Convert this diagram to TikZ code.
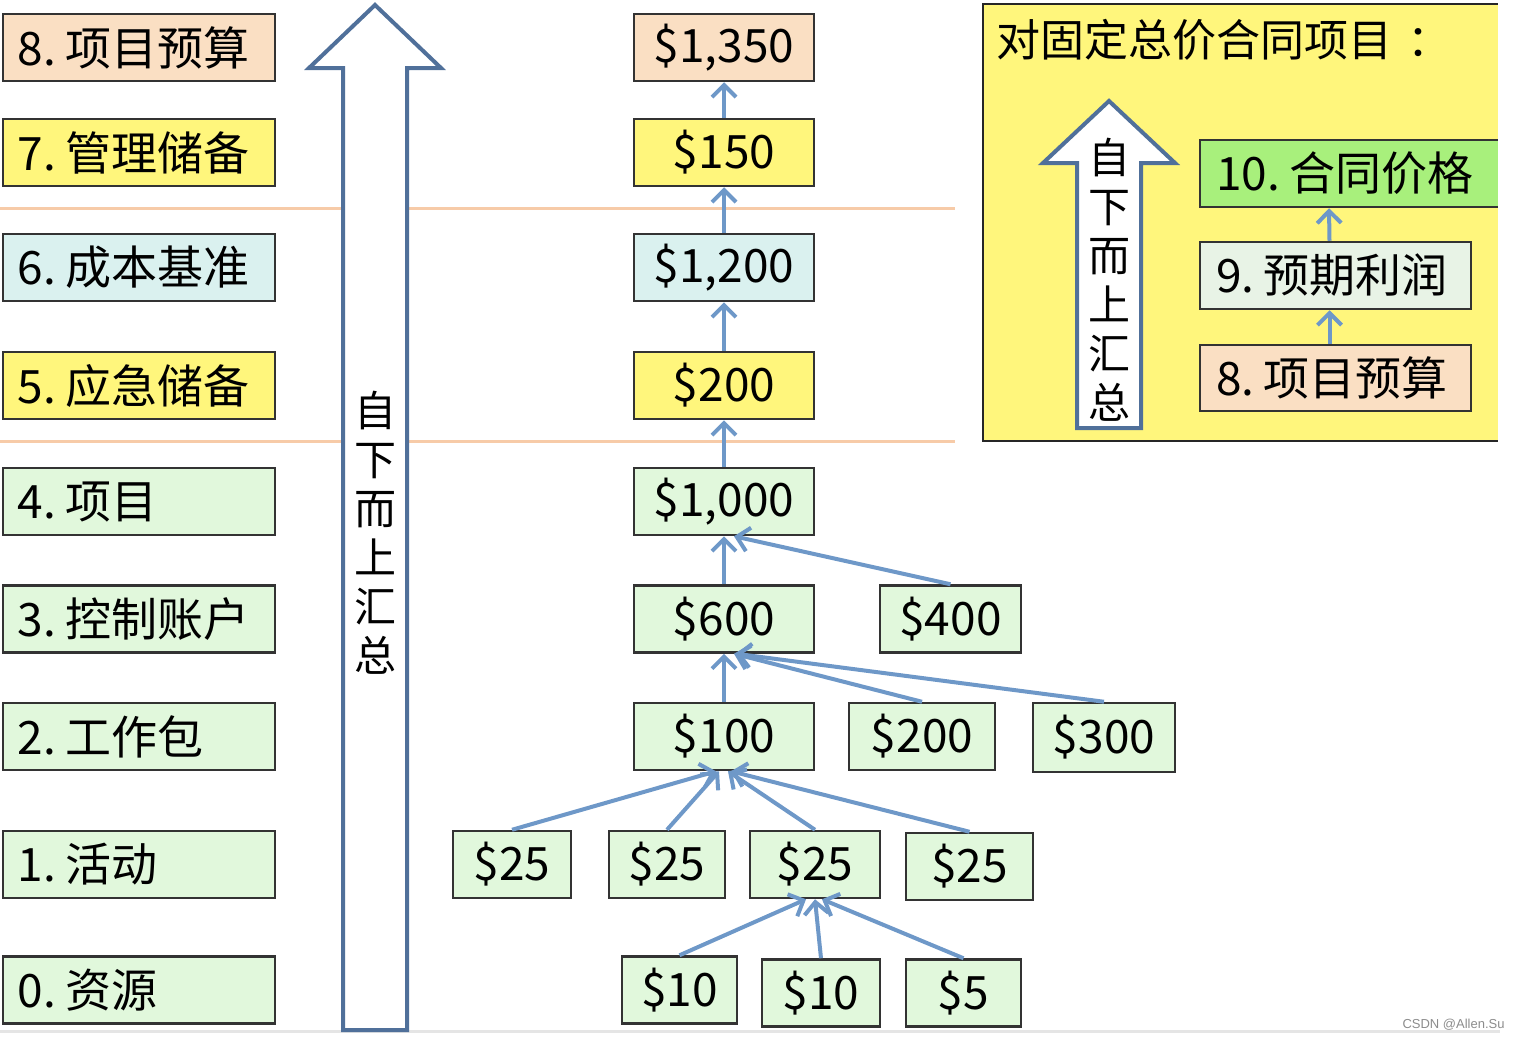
\documentclass[tikz,border=0pt]{standalone}
\usepackage{fontspec}
\setmainfont{Noto Sans CJK SC}
\newfontfamily\wmfont{Liberation Sans}
\usetikzlibrary{arrows.meta}
\definecolor{peach}{HTML}{FADFC3}
\definecolor{yel}{HTML}{FFF67C}
\definecolor{cyanl}{HTML}{DAF1EF}
\definecolor{grn}{HTML}{E1F8DC}
\definecolor{grnb}{HTML}{A8F07C}
\definecolor{grey9}{HTML}{E8F3E6}
\definecolor{boxline}{HTML}{333333}
\definecolor{arrc}{HTML}{6E98C8}
\definecolor{bigarr}{HTML}{50709A}
\definecolor{orangel}{HTML}{F7CBA8}
\newcommand\lbl[2]{\makebox[#1][l]{#2}}
\tikzset{
  box/.style={draw=boxline, line width=1.25pt, inner sep=0pt, minimum height=33.5pt,
    font=\fontsize{23pt}{27pt}\selectfont},
  amt/.style={box},
  arr/.style={draw=arrc, line width=2pt, -{Straight Barb[length=6pt,width=12pt]}},
  vtext/.style={align=center, font=\fontsize{21pt}{24.5pt}\selectfont},
  hollow/.style={draw=bigarr, line width=2pt, fill=white, line join=miter}
}
\begin{document}
\begin{tikzpicture}[x=0.5pt,y=-0.5pt]
\useasboundingbox (0,0) rectangle (1520,1040);
% background lines
\draw[line width=1.5pt, draw=black!10] (0,1031) -- (1500,1031);
\draw[line width=1.5pt, draw=orangel] (0,208) -- (955,208);
\draw[line width=1.5pt, draw=orangel] (0,441) -- (955,441);
% big arrow
\draw[hollow] (343,1030) -- (343,68) -- (309,68) -- (375,5) -- (441,68) -- (407,68) -- (407,1030) -- cycle;
\node[vtext] (bigtxt) at (375,532.5) {自\\下\\而\\上\\汇\\总};
% left labels
\tikzset{lab/.style={box, minimum width=136pt}}
\node[lab, fill=peach] (l8) at (139,47.5) {\lbl{121pt}{8.\hspace{0.2em}项目预算}};
\node[lab, fill=yel] (l7) at (139,152.5) {\lbl{121pt}{7.\hspace{0.2em}管理储备}};
\node[lab, fill=cyanl] (l6) at (139,267.5) {\lbl{121pt}{6.\hspace{0.2em}成本基准}};
\node[lab, fill=yel] (l5) at (139,385.5) {\lbl{121pt}{5.\hspace{0.2em}应急储备}};
\node[lab, fill=grn] (l4) at (139,501.5) {\lbl{121pt}{4.\hspace{0.2em}项目}};
\node[lab, fill=grn] (l3) at (139,619) {\lbl{121pt}{3.\hspace{0.2em}控制账户}};
\node[lab, fill=grn] (l2) at (139,736.5) {\lbl{121pt}{2.\hspace{0.2em}工作包}};
\node[lab, fill=grn] (l1) at (139,864.5) {\lbl{121pt}{1.\hspace{0.2em}活动}};
\node[lab, fill=grn] (l0) at (139,990) {\lbl{121pt}{0.\hspace{0.2em}资源}};
% middle column
\node[amt, fill=peach, minimum width=90pt] (c1350) at (724,47.5) {\$1,350};
\node[amt, fill=yel, minimum width=90pt] (c150) at (724,152.5) {\$150};
\node[amt, fill=cyanl, minimum width=90pt] (c1200) at (724,267.5) {\$1,200};
\node[amt, fill=yel, minimum width=90pt] (c200) at (724,385.5) {\$200};
\node[amt, fill=grn, minimum width=90pt] (c1000) at (724,501.5) {\$1,000};
\node[amt, fill=grn, minimum width=90pt] (c600) at (724,619) {\$600};
\node[amt, fill=grn, minimum width=70.5pt] (c400) at (950.5,619) {\$400};
\node[amt, fill=grn, minimum width=90pt] (c100) at (724,736.5) {\$100};
\node[amt, fill=grn, minimum width=73pt] (c200b) at (922,736.5) {\$200};
\node[amt, fill=grn, minimum width=71pt, minimum height=34.5pt] (c300) at (1104,737.5) {\$300};
\node[amt, fill=grn, minimum width=59pt] (a1) at (512,864.5) {\$25};
\node[amt, fill=grn, minimum width=58pt] (a2) at (667,864.5) {\$25};
\node[amt, fill=grn, minimum width=65pt] (a3) at (815,864.5) {\$25};
\node[amt, fill=grn, minimum width=63.5pt] (a4) at (969.5,866.5) {\$25};
\node[amt, fill=grn, minimum width=57.5pt] (r1) at (679.5,990) {\$10};
\node[amt, fill=grn, minimum width=59pt] (r2) at (821,993) {\$10};
\node[amt, fill=grn, minimum width=57.5pt] (r3) at (963.5,993) {\$5};
% chain arrows
\draw[arr] (c150.north) -- (c1350.south);
\draw[arr] (c1200.north) -- (c150.south);
\draw[arr] (c200.north) -- (c1200.south);
\draw[arr] (c1000.north) -- (c200.south);
\draw[arr] (c600.north) -- (c1000.south);
\draw[arr] (c400.north) -- ([xshift=5pt]c1000.south);
\draw[arr] (c100.north) -- (c600.south);
\draw[arr] (c200b.north) -- ([xshift=5pt]c600.south);
\draw[arr] (c300.north) -- ([xshift=6pt]c600.south);
\draw[arr] (a1.north) -- ([xshift=-4pt]c100.south);
\draw[arr] (a2.north) -- ([xshift=-2.5pt]c100.south);
\draw[arr] (a3.north) -- ([xshift=2pt]c100.south);
\draw[arr] (a4.north) -- ([xshift=3.5pt]c100.south);
\draw[arr] (r1.north) -- ([xshift=-4.5pt]a3.south);
\draw[arr] (r2.north) -- (a3.south);
\draw[arr] (r3.north) -- ([xshift=3.5pt]a3.south);
% right panel
\node[draw=black!85, line width=1pt, fill=yel, minimum width=263.5pt, minimum height=218.5pt, inner sep=0pt] (panel) at (1246.5,222.5) {};
\node[anchor=west, inner sep=0pt, font=\fontsize{22pt}{26pt}\selectfont] (ptitle) at (996,40) {对固定总价合同项目\hspace{0.35em}：};
\draw[hollow] (1077,428) -- (1077,163) -- (1043,163) -- (1109,101) -- (1175,163) -- (1141,163) -- (1141,428) -- cycle;
\node[vtext] (smtxt) at (1109,279.5) {自\\下\\而\\上\\汇\\总};
\node[box, fill=grnb, minimum width=155pt] (p10) at (1355,173.5) {\lbl{139pt}{10.\hspace{0.2em}合同价格}};
\node[box, fill=grey9, minimum width=135.5pt] (p9) at (1335.5,275.5) {\lbl{119.5pt}{9.\hspace{0.2em}预期利润}};
\node[box, fill=peach, minimum width=135.5pt, minimum height=33pt] (p8) at (1335.5,378) {\lbl{119.5pt}{8.\hspace{0.2em}项目预算}};
\draw[arr] ([xshift=-3pt]p8.north) -- ([xshift=-3pt]p9.south);
\draw[arr] ([xshift=-3pt]p9.north) -- ([xshift=-13pt]p10.south);
% crop on the right
\fill[white] (1497.5,0) rectangle (1520,447);
% watermark
\node[anchor=east, inner sep=0pt, text=black!45, font=\wmfont\fontsize{6.5pt}{8pt}\selectfont] (wm) at (1505,1025) {CSDN @Allen.Su};
\end{tikzpicture}
\end{document}
